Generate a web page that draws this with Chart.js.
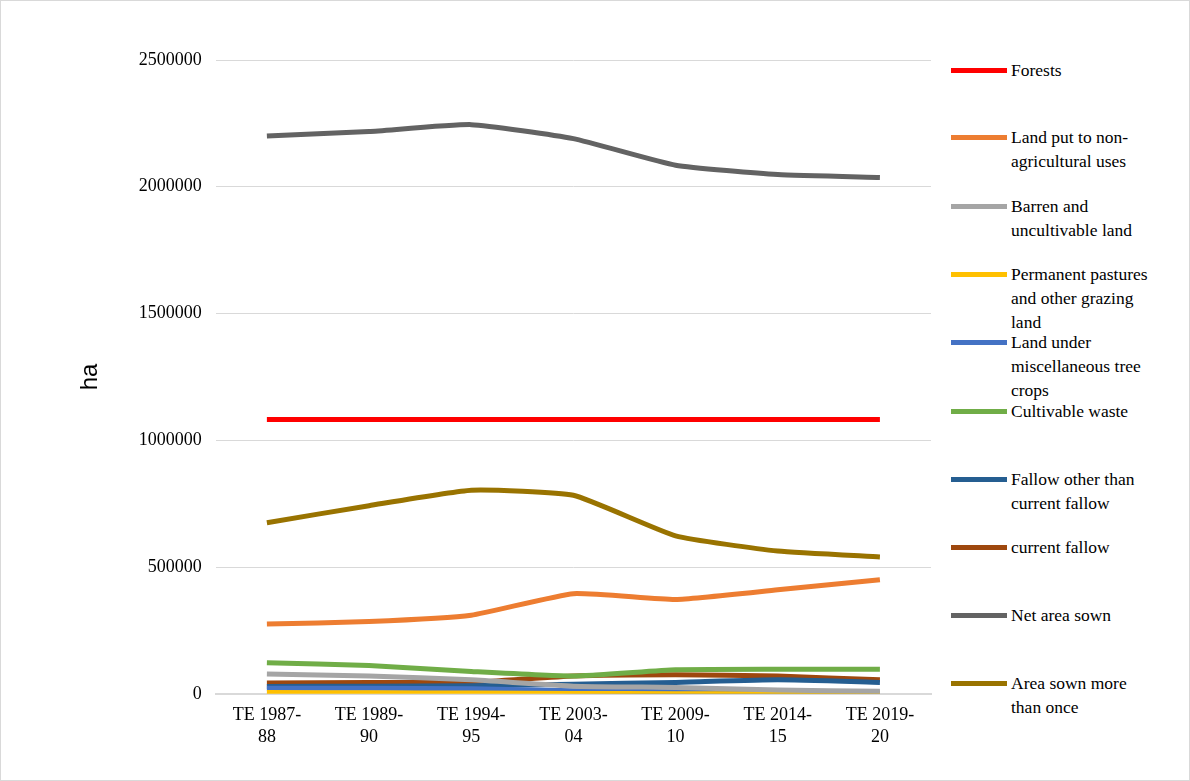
<!DOCTYPE html>
<html>
<head>
<meta charset="utf-8">
<script src="https://cdn.jsdelivr.net/npm/chart.js@4"></script>
<style>
  body { margin: 0; background: #fff; }
  #wrap { position: relative; width: 1188px; height: 779px; border: 1px solid #d9d9d9; }
  #chartBox { position: absolute; left: 0; top: 0; width: 940px; height: 779px; }
  #legend { position: absolute; left: 950px; top: 0; width: 240px; font-family: "Liberation Serif", serif; font-size: 17.5px; color: #000; }
  .item { position: absolute; left: 0; display: flex; align-items: flex-start; line-height: 24px; }
  .sw { width: 56px; height: 5px; margin-top: 10px; margin-right: 4px; flex: none; }
</style>
</head>
<body>
<div id="wrap">
  <div id="chartBox"><canvas id="landPlot"></canvas></div>
  <div id="legend"></div>
</div>
<script>
const labels = [['TE 1987-', '88'], ['TE 1989-', '90'], ['TE 1994-', '95'], ['TE 2003-', '04'], ['TE 2009-', '10'], ['TE 2014-', '15'], ['TE 2019-', '20']];

const forests = [1082000, 1082000, 1082000, 1082000, 1082000, 1082000, 1082000];
const nonAgri = [275000, 285000, 310000, 395000, 372000, 410000, 450000];
const barren = [78000, 70000, 55000, 30000, 25000, 15000, 10000];
const pastures = [5000, 4000, 3000, 1000, 500, 500, 500];
const treeCrops = [22000, 22000, 20000, 12000, 8000, 5000, 3000];
const cultWaste = [122000, 112000, 88000, 70000, 95000, 97000, 97000];
const fallowOther = [29000, 30000, 32000, 38000, 45000, 55000, 45000];
const currentFallow = [43000, 45000, 45000, 70000, 75000, 70000, 55000];
const netSown = [2200000, 2218000, 2245000, 2190000, 2085000, 2048000, 2037000];
const sownMore = [675000, 742000, 803000, 783000, 623000, 563000, 540000];

const series = [
    { label: 'Forests', data: forests, color: '#ff0000', top: 57 },
    { label: 'Land put to non-agricultural uses', data: nonAgri, color: '#ed7d31', top: 124, width: 165 },
    { label: 'Barren and uncultivable land', data: barren, color: '#a5a5a5', top: 193, width: 150 },
    { label: 'Permanent pastures and other grazing land', data: pastures, color: '#ffc000', top: 261, width: 150 },
    { label: 'Land under miscellaneous tree crops', data: treeCrops, color: '#4472c4', top: 329, width: 165 },
    { label: 'Cultivable waste', data: cultWaste, color: '#70ad47', top: 398 },
    { label: 'Fallow other than current fallow', data: fallowOther, color: '#255e91', top: 466, width: 160 },
    { label: 'current fallow', data: currentFallow, color: '#9e480e', top: 534 },
    { label: 'Net area sown', data: netSown, color: '#636363', top: 602 },
    { label: 'Area sown more than once', data: sownMore, color: '#997300', top: 670, width: 140 }
];

const legend = document.getElementById('legend');
series.forEach(s => {
    const div = document.createElement('div');
    div.className = 'item';
    div.style.top = s.top + 'px';
    div.innerHTML = '<span class="sw" style="background:' + s.color + '"></span><span style="width:' + (s.width || 200) + 'px">' + s.label + '</span>';
    legend.appendChild(div);
});

const serif = "'Liberation Serif', serif";

new Chart(document.getElementById('landPlot'), {
    type: 'line',
    data: {
        labels,
        datasets: series.map(s => ({
            label: s.label,
            data: s.data,
            fill: false,
            borderColor: s.color,
            backgroundColor: s.color,
            borderWidth: 5,
            pointRadius: 0,
            tension: 0.15
        }))
    },
    options: {
        responsive: true,
        maintainAspectRatio: false,
        animation: false,
        layout: { padding: { top: 59, right: 10, bottom: 29, left: 55 } },
        plugins: { legend: { display: false }, tooltip: { enabled: false } },
        scales: {
            x: {
                offset: true,
                grid: { display: false },
                border: { color: '#d9d9d9', width: 2 },
                ticks: { color: '#000', font: { family: serif, size: 18 }, maxRotation: 0 }
            },
            y: {
                min: 0,
                max: 2500000,
                ticks: { stepSize: 500000, color: '#000', font: { family: serif, size: 18 }, padding: 14, callback: v => String(v) },
                grid: { color: '#d9d9d9', drawTicks: false },
                border: { display: false },
                title: { display: true, text: 'ha', color: '#000', font: { family: "'Liberation Sans', sans-serif", size: 24 }, padding: 20 }
            }
        }
    }
});
</script>
</body>
</html>
